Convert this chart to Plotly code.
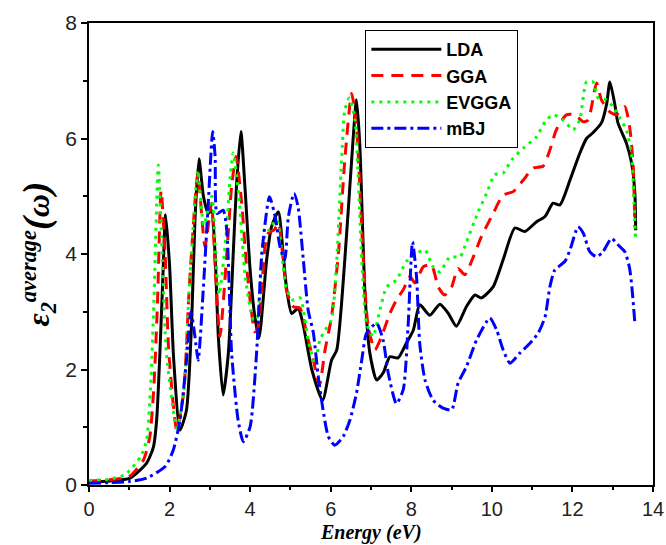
import plotly.graph_objects as go

# ---- data ----
lda_x = [0.0, 0.5, 1.02, 1.43, 1.6, 1.68, 1.76, 1.84, 1.9, 2.0, 2.1, 2.26, 2.42, 2.55, 2.63, 2.73,
         2.84, 2.96, 3.04, 3.13, 3.21, 3.33, 3.46, 3.58, 3.66, 3.77, 3.87, 4.0, 4.12, 4.22,
         4.41, 4.53, 4.7, 4.82, 4.9, 5.03, 5.19, 5.31, 5.53, 5.8, 6.02, 6.15, 6.35, 6.52, 6.64,
         6.72, 6.85, 6.97, 7.14, 7.3, 7.47, 7.67, 7.88, 8.05, 8.21, 8.46, 8.71, 8.92, 9.12, 9.37,
         9.58, 9.74, 10.03, 10.28, 10.57, 10.82, 11.11, 11.32, 11.52, 11.69, 11.94, 12.18, 12.35,
         12.51, 12.72, 12.85, 12.93, 13.05, 13.13, 13.34, 13.47, 13.55, 13.57]
lda_y = [0.05, 0.07, 0.12, 0.38, 0.66, 1.13, 2.29, 3.72, 4.68, 3.8, 2.2, 0.95, 1.3, 2.86, 4.59, 5.65,
         5.0, 4.7, 4.76, 4.0, 2.57, 1.56, 2.29, 4.0, 5.17, 6.12, 5.17, 3.72, 2.9, 2.55,
         3.9, 4.47, 4.73, 4.0, 3.43, 2.97, 3.06, 2.8, 2.0, 1.47, 2.16, 2.34, 3.9, 5.63, 6.67,
         5.92, 3.32, 2.29, 1.82, 1.94, 2.22, 2.2, 2.46, 2.68, 3.12, 2.94, 3.13, 2.97, 2.75, 3.09,
         3.29, 3.24, 3.43, 3.9, 4.45, 4.39, 4.56, 4.65, 4.88, 4.85, 5.28, 5.74, 6.0,
         6.1, 6.27, 6.6, 6.98, 6.6, 6.27, 5.92, 5.57, 5.05, 4.41]

gga_x = [0.0, 0.5, 1.0, 1.35, 1.51, 1.61, 1.7, 1.79, 1.89, 1.98, 2.18, 2.35, 2.48, 2.6, 2.7, 2.88,
         3.04, 3.13, 3.25, 3.42, 3.54, 3.65, 3.79, 3.92, 4.12, 4.2, 4.37, 4.45, 4.6, 4.7, 4.82,
         4.9, 5.07, 5.24, 5.4, 5.57, 5.72, 5.86, 6.02, 6.19, 6.35, 6.52, 6.64, 6.81, 6.93, 7.1,
         7.26, 7.47, 7.63, 7.8, 7.97, 8.09, 8.3, 8.5, 8.67, 8.83, 9.0, 9.16, 9.33, 9.54, 9.74,
         10.03, 10.28, 10.53, 10.78, 11.03, 11.27, 11.44, 11.6, 11.85, 12.06, 12.27, 12.39, 12.6,
         12.72, 12.93, 13.09, 13.3, 13.42, 13.51, 13.55]
gga_y = [0.07, 0.09, 0.15, 0.43, 0.84, 1.7, 3.15, 5.1, 4.0, 2.3, 0.95, 1.6, 3.3, 4.6, 5.4, 4.13,
         4.88, 3.8, 2.57, 4.0, 5.17, 5.69, 4.88, 3.72, 2.65, 2.74, 4.13, 4.36, 4.42, 4.53, 3.9,
         3.38, 3.09, 3.06, 2.63, 2.16, 1.73, 2.34, 2.91, 4.0, 5.63, 6.78, 6.2, 3.9, 2.74, 2.34,
         2.57, 2.97, 3.2, 3.38, 3.61, 3.5, 3.78, 3.81, 3.43, 3.29, 3.43, 3.75, 3.64, 3.95, 4.3,
         4.7, 5.02, 5.08, 5.28, 5.49, 5.52, 5.8, 6.15, 6.41, 6.41, 6.29, 6.32, 6.96,
         6.67, 6.46, 6.41, 6.55, 6.2, 5.51, 4.47]

evgga_x = [0.0, 0.5, 0.9, 1.29, 1.43, 1.53, 1.61, 1.72, 1.8, 1.92, 2.18, 2.35, 2.48, 2.6, 2.7, 2.85,
           3.05, 3.15, 3.23, 3.4, 3.5, 3.58, 3.72, 3.88, 4.08, 4.16, 4.33, 4.45, 4.66, 4.82, 4.9,
           5.07, 5.24, 5.44, 5.61, 5.73, 5.86, 6.02, 6.15, 6.27, 6.35, 6.46, 6.6, 6.77, 6.89, 7.05,
           7.22, 7.39, 7.63, 7.88, 8.13, 8.34, 8.54, 8.71, 8.96, 9.21, 9.37, 9.66, 9.87, 10.07,
           10.28, 10.49, 10.78, 11.11, 11.32, 11.52, 11.77, 12.02, 12.18, 12.35, 12.51, 12.64,
           12.85, 13.01, 13.18, 13.34, 13.47, 13.52, 13.57]
evgga_y = [0.08, 0.1, 0.18, 0.5, 0.78, 1.7, 3.15, 5.54, 4.3, 2.3, 0.99, 1.6, 3.3, 4.6, 5.45, 4.5,
           5.0, 3.9, 3.3, 4.3, 5.3, 5.75, 5.0, 3.6, 2.86, 2.86, 4.24, 4.4, 4.59, 3.8, 3.4,
           3.2, 3.24, 2.51, 2.11, 2.51, 2.68, 2.86, 3.9, 5.63, 6.49, 6.7, 6.32, 3.9, 2.8, 2.57,
           3.03, 3.43, 3.55, 3.87, 4.01, 4.07, 3.78, 3.69, 3.95, 3.95, 4.21, 4.73, 5.05, 5.37,
           5.4, 5.63, 5.83, 6.03, 6.29, 6.41, 6.32, 6.15, 6.32, 6.98, 6.98, 6.7,
           6.67, 6.55, 6.35, 6.15, 5.69, 5.05, 4.21]

mbj_x = [0.0, 0.5, 1.0, 1.43, 1.89, 2.09, 2.26, 2.42, 2.53, 2.63, 2.71, 2.84, 2.96, 3.07, 3.13,
         3.18, 3.33, 3.42, 3.54, 3.7, 3.83, 4.0, 4.16, 4.29, 4.48, 4.62, 4.74, 4.86, 4.95, 5.09,
         5.19, 5.32, 5.44, 5.57, 5.69, 5.81, 5.94, 6.1, 6.31, 6.48, 6.64, 6.77, 6.89, 7.14, 7.3,
         7.43, 7.63, 7.8, 7.92, 8.03, 8.13, 8.21, 8.34, 8.54, 8.79, 9.0, 9.16, 9.37, 9.62, 9.95,
         10.12, 10.28, 10.45, 10.69, 10.94, 11.15, 11.32, 11.44, 11.56, 11.81, 11.94, 12.14,
         12.27, 12.43, 12.6, 12.76, 12.97, 13.13, 13.3, 13.42, 13.49, 13.55]
mbj_y = [0.03, 0.04, 0.06, 0.12, 0.32, 0.6, 1.13, 2.16, 3.0, 2.57, 2.16, 3.43, 4.88, 6.12, 5.7,
         4.7, 4.76, 4.41, 2.29, 1.13, 0.75, 1.01, 2.29, 4.01, 4.99, 4.65, 4.13, 3.9, 4.65, 5.05,
         4.82, 3.9, 3.03, 2.63, 1.88, 1.3, 0.84, 0.69, 0.84, 1.13, 1.59, 2.16, 2.63, 2.8, 2.51,
         1.93, 1.41, 1.65, 2.74, 4.21, 3.61, 2.45, 1.82, 1.47, 1.33, 1.3, 1.76, 2.05, 2.51, 2.89,
         2.68, 2.34, 2.11, 2.28, 2.45, 2.63, 2.91, 3.43, 3.72, 3.87, 4.07, 4.47,
         4.36, 4.04, 3.95, 4.04, 4.27, 4.16, 4.04, 3.75, 3.32, 2.8]

series = [
    ("LDA", lda_x, lda_y, "#000000", "solid"),
    ("GGA", gga_x, gga_y, "#ff0000", "12px,8px"),
    ("EVGGA", evgga_x, evgga_y, "#00ff00", "3px,5px"),
    ("mBJ", mbj_x, mbj_y, "#0000ff", "12px,4px,3px,4px"),
]

x_ticks = [0, 2, 4, 6, 8, 10, 12, 14]
y_ticks = [0, 2, 4, 6, 8]
x_title = "<b><i>Energy (eV)</i></b>"
y_title = ("<b><i>ε<sub>2</sub><sup>average</sup><span style='font-size:38px'>(</span>ω"
           "<span style='font-size:38px'>)</span></i></b>")

fig = go.Figure()
for name, xs, ys, color, dash in series:
    fig.add_trace(go.Scatter(x=xs, y=ys, name=name, mode="lines",
                             line=dict(color=color, width=3, dash=dash, shape="spline", smoothing=0.6)))

axis_common = dict(showline=True, mirror=True, linecolor="black", linewidth=1.5,
                   ticks="outside", tickwidth=1.5, tickcolor="black",
                   showgrid=False, zeroline=False, automargin=False)

fig.update_xaxes(range=[0, 14], tickvals=x_ticks, ticklen=5,
                 tickfont=dict(family="Liberation Sans, Arial", size=20, color="#222"),
                 minor=dict(dtick=1, ticks="outside", ticklen=3, tickwidth=1.5, tickcolor="black"),
                 **axis_common)
fig.update_yaxes(range=[0, 8], tickvals=y_ticks, ticklen=6,
                 tickfont=dict(family="Liberation Sans, Arial", size=21, color="#222"),
                 minor=dict(dtick=1, ticks="outside", ticklen=4, tickwidth=1.5, tickcolor="black"),
                 title=dict(text=y_title,
                            font=dict(family="Liberation Serif, Times New Roman", size=32, color="black"),
                            standoff=6),
                 **axis_common)

fig.add_annotation(text=x_title, xref="paper", yref="paper", x=0.5, y=0,
                   xanchor="center", yanchor="bottom", yshift=-60, showarrow=False, borderpad=0,
                   font=dict(family="Liberation Serif, Times New Roman", size=20, color="black"))

fig.update_layout(
    width=666, height=545,
    margin=dict(l=89, r=13, t=23, b=60),
    plot_bgcolor="white", paper_bgcolor="white",
    legend=dict(x=0.49, y=0.985, xanchor="left", yanchor="top",
                bordercolor="black", borderwidth=1, bgcolor="white",
                font=dict(family="Liberation Sans, Arial", size=18, color="black", weight="bold"),
                itemwidth=70, tracegroupgap=0),
)

fig.write_html("out.html")
